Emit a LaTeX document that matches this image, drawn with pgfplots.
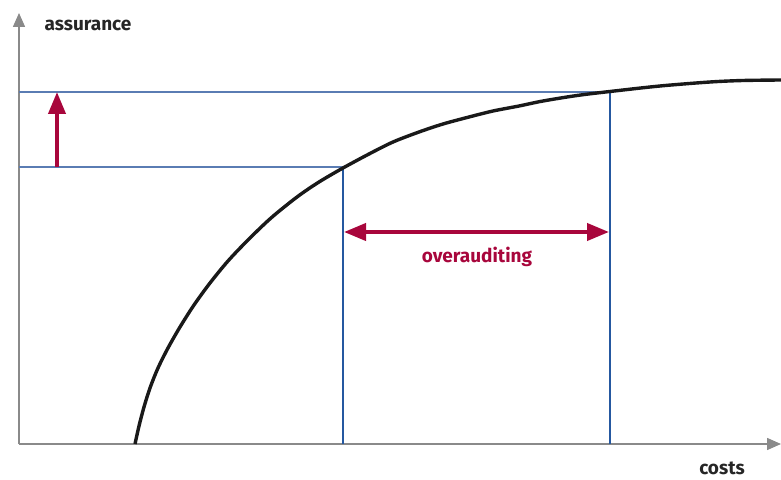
\documentclass[border=0pt]{standalone}
\usepackage{pgfplots}
\pgfplotsset{compat=1.18}
\usepackage{fontspec}
\setmainfont{Fira Sans}
\usetikzlibrary{arrows.meta}
\definecolor{axgray}{HTML}{8A8A8A}
\definecolor{myred}{HTML}{A8063C}
\definecolor{hblue}{HTML}{5A7CB3}
\definecolor{vblue}{HTML}{2558A0}
\begin{document}
\begin{tikzpicture}
\begin{axis}[
  width=781pt, height=479pt, scale only axis,
  xmin=-19, xmax=762, ymin=-35, ymax=444,
  axis lines=none, clip=false,
]
\addplot[draw=none] coordinates {(-19,-35) (762,444)};
\coordinate (bl) at (axis cs:-19,-35);
\coordinate (tr) at (axis cs:762,444);
% axes
\addplot[axgray, line width=1.5pt, -{Triangle[length=14pt,width=12pt]}] coordinates {(0,0) (0,431)};
\addplot[axgray, line width=1.5pt, -{Triangle[length=14pt,width=12pt]}] coordinates {(0,0) (762,0)};
% guide lines
\addplot[hblue, line width=1.3pt] coordinates {(0,352) (591,352)};
\addplot[hblue, line width=1.3pt] coordinates {(0,277) (324,277)};
\addplot[vblue, line width=1.4pt] coordinates {(324,0) (324,277)};
\addplot[vblue, line width=1.4pt] coordinates {(591,0) (591,352)};
% curve
\addplot[black!90, line width=3.4pt, smooth] coordinates {
(116,0) (120,18) (125,37) (131,56) (139,76) (149,96) (161,117) (175,139)
(191,161) (209,183) (229,204) (252,226) (278,247) (300,262) (324,276)
(350,290) (374,302) (400,312) (424,320) (450,327) (474,333) (500,338)
(524,343) (558,348.5) (591,352.5) (641,358) (691,362) (724,363.5) (762,364)};
% red arrows
\addplot[myred, line width=4pt, -{Triangle[length=22pt,width=17pt]}] coordinates {(38,277) (38,352)};
\addplot[myred, line width=4pt, {Triangle[length=22pt,width=17pt]}-{Triangle[length=22pt,width=17pt]}] coordinates {(325,212) (590,212)};
% labels
\node[inner sep=0pt, font=\fontsize{19}{22}\selectfont\bfseries, text=black!85] at (axis cs:69,419) {assurance};
\node[inner sep=0pt, font=\fontsize{19}{22}\selectfont\bfseries, text=black!85] at (axis cs:703,-24) {costs};
\node[inner sep=0pt, font=\fontsize{19}{22}\selectfont\bfseries, text=myred] at (axis cs:458,187) {overauditing};
\end{axis}
\pgfresetboundingbox
\useasboundingbox (bl) rectangle (tr);
\end{tikzpicture}
\end{document}
